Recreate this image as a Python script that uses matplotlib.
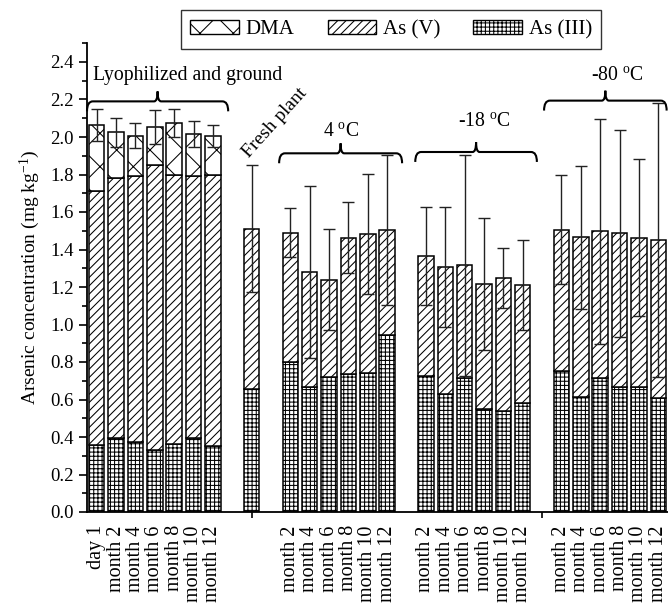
import numpy as np
import matplotlib
matplotlib.use('Agg')
import matplotlib.pyplot as plt
from matplotlib.path import Path
from matplotlib.patches import PathPatch, Patch
from matplotlib.ticker import MultipleLocator

plt.rcParams['font.family'] = 'Liberation Serif'
plt.rcParams['mathtext.fontset'] = 'custom'
plt.rcParams['mathtext.rm'] = 'Liberation Serif'
plt.rcParams['mathtext.it'] = 'Liberation Serif:italic'
plt.rcParams['hatch.linewidth'] = 0.75
plt.rcParams['hatch.color'] = 'black'

# lyophilized and ground
lyo_labels = ['day 1', 'month 2', 'month 4', 'month 6', 'month 8', 'month 10', 'month 12']
lyo_as3 = [0.355, 0.393, 0.372, 0.330, 0.364, 0.397, 0.350]
lyo_as5 = [1.355, 1.387, 1.422, 1.520, 1.436, 1.393, 1.446]
lyo_dma = [0.355, 0.245, 0.212, 0.205, 0.275, 0.227, 0.209]
lyo_err = [0.087, 0.078, 0.067, 0.090, 0.077, 0.068, 0.060]

# fresh plant
fresh_labels = ['']
fresh_as3 = [0.655]
fresh_as5 = [0.856]
fresh_dma = [0.0]
fresh_err = [0.34]

month_labels = ['month 2', 'month 4', 'month 6', 'month 8', 'month 10', 'month 12']

# 4 C
c4_as3 = [0.798, 0.665, 0.720, 0.734, 0.740, 0.946]
c4_as5 = [0.692, 0.615, 0.519, 0.729, 0.741, 0.556]
c4_err = [0.13, 0.46, 0.27, 0.19, 0.32, 0.40]

# -18 C
c18_as3 = [0.725, 0.628, 0.715, 0.548, 0.540, 0.580]
c18_as5 = [0.640, 0.677, 0.601, 0.668, 0.706, 0.629]
c18_err = [0.26, 0.32, 0.59, 0.35, 0.16, 0.24]

# -80 C
c80_as3 = [0.750, 0.613, 0.716, 0.668, 0.668, 0.608]
c80_as5 = [0.756, 0.852, 0.781, 0.818, 0.795, 0.843]
c80_err = [0.29, 0.38, 0.60, 0.55, 0.42, 0.73]

zeros6 = [0.0] * 6
groups = [
    (lyo_labels, lyo_as3, lyo_as5, lyo_dma, lyo_err),
    (fresh_labels, fresh_as3, fresh_as5, fresh_dma, fresh_err),
    (month_labels, c4_as3, c4_as5, zeros6, c4_err),
    (month_labels, c18_as3, c18_as5, zeros6, c18_err),
    (month_labels, c80_as3, c80_as5, zeros6, c80_err),
]


def brace(ax, x0, x1, y, dx=0.3, dy=0.053, tip=0.18):
    """curly brace opening downwards, pointed tip upwards at the middle"""
    xm = 0.5 * (x0 + x1)
    verts = [(x0, y - dy), (x0, y), (x0 + dx, y),
             (xm - tip, y), (xm, y), (xm, y + dy),
             (xm, y), (xm + tip, y),
             (x1 - dx, y), (x1, y), (x1, y - dy)]
    codes = [Path.MOVETO, Path.CURVE3, Path.CURVE3,
             Path.LINETO, Path.CURVE3, Path.CURVE3,
             Path.CURVE3, Path.CURVE3,
             Path.LINETO, Path.CURVE3, Path.CURVE3]
    ax.add_patch(PathPatch(Path(verts, codes), fc='none', ec='black',
                           lw=1.5, clip_on=False, zorder=4))


fig = plt.figure(figsize=(6.68, 6.04), dpi=100)
ax = fig.add_axes([87 / 668., 1 - 512 / 604., 581 / 668., 468.75 / 604.])

width = 0.8
bar_kw = dict(width=width, facecolor='white', edgecolor='black', linewidth=1.1)
tick_pos, tick_lab = [], []
spans = []
pos = 0
for labels, as3, as5, dma, err in groups:
    n = len(as3)
    x = np.arange(pos, pos + n)
    as3 = np.array(as3)
    as5 = np.array(as5)
    dma = np.array(dma)
    ax.bar(x, as3, hatch='++++', **bar_kw)
    ax.bar(x, as5, bottom=as3, hatch='////', **bar_kw)
    if dma.sum() > 0:
        ax.bar(x, dma, bottom=as3 + as5, hatch='x', **bar_kw)
    total = as3 + as5 + dma
    ax.errorbar(x, total, yerr=err, fmt='none', ecolor='#222222',
                elinewidth=1.0, capsize=4, capthick=1.0, zorder=3)
    for xi, lab in zip(x, labels):
        if lab:
            tick_pos.append(xi)
            tick_lab.append(lab)
    spans.append((x[0], x[-1]))
    pos += n + 1

# group braces and captions
brace(ax, spans[0][0] - 0.5, spans[0][1] + 0.79, 2.19)
brace(ax, spans[2][0] - 0.58, spans[2][1] + 0.77, 1.913)
brace(ax, spans[3][0] - 0.55, spans[3][1] + 0.73, 1.92)
brace(ax, spans[4][0] - 0.9, spans[4][1] + 0.43, 2.194)

ax.text(4.7, 2.33, 'Lyophilized and ground', fontsize=14.2, ha='center', va='center')
ax.text(12.6, 2.03, r'4 $^{\rm o}$C', fontsize=14.2, ha='center', va='center')
ax.text(20.0, 2.08, r'-18 $^{\rm o}$C', fontsize=14.2, ha='center', va='center')
ax.text(26.9, 2.33, r'-80 $^{\rm o}$C', fontsize=14.2, ha='center', va='center')
ax.text(8.0, 1.87, 'Fresh plant', fontsize=14, rotation=48,
        rotation_mode='anchor', ha='left', va='bottom')

ax.set_xlim(-0.5, 29.5)
ax.set_ylim(0, 2.5)
ax.set_xticks(tick_pos)
ax.set_xticklabels(tick_lab, rotation=90, fontsize=14.5)
ax.set_xticks([3, 8, 13, 18, 23, 28], minor=True)
ax.tick_params(axis='x', which='major', length=0, pad=9.5)
ax.tick_params(axis='x', which='minor', length=4.5, width=1.2, direction='out')

ax.set_yticks(np.arange(0, 2.41, 0.2))
ax.set_yticklabels(['%.1f' % v for v in np.arange(0, 2.41, 0.2)], fontsize=13.5)
ax.yaxis.set_minor_locator(MultipleLocator(0.1))
ax.tick_params(axis='y', which='major', length=6, width=1.2, direction='out')
ax.tick_params(axis='y', which='minor', length=3.5, width=1.2, direction='out')
ax.set_ylabel('Arsenic concentration (mg kg$^{-1}$)', fontsize=14, labelpad=6)

for side in ['top', 'right']:
    ax.spines[side].set_visible(False)
for side in ['left', 'bottom']:
    ax.spines[side].set_linewidth(1.3)

handles = [Patch(facecolor='white', edgecolor='black', hatch='x', label='DMA'),
           Patch(facecolor='white', edgecolor='black', hatch='////', label='As (V)'),
           Patch(facecolor='white', edgecolor='black', hatch='++++', label='As (III)')]
leg = fig.legend(handles=handles, loc='center', bbox_to_anchor=(391 / 668., 1 - 29.5 / 604.),
                 ncol=3, fontsize=15, frameon=True, fancybox=False, edgecolor='black',
                 handlelength=2.35, handleheight=0.67, handletextpad=0.3,
                 columnspacing=1.6, borderpad=0.45)
leg.get_frame().set_linewidth(1.0)

fig.savefig('out.png', dpi=100)
